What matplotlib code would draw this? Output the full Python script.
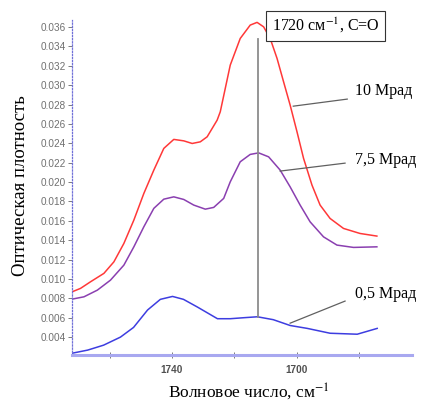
import matplotlib.pyplot as plt
from matplotlib.ticker import FixedLocator, FuncFormatter

plt.rcParams['mathtext.fontset'] = 'stix'

# wavenumber (cm-1) and optical density
wn_10 = [1772.5, 1769.3, 1766.1, 1761.8, 1758.6, 1755.4, 1752.2, 1749.0, 1745.8, 1742.6,
         1739.4, 1736.2, 1733.5, 1730.9, 1728.7, 1725.5, 1724.5, 1721.3, 1718.1, 1714.9,
         1712.7, 1710.6, 1708.5, 1706.3, 1704.2, 1702.1, 1699.9, 1697.8, 1695.1, 1692.5,
         1689.3, 1685.0, 1679.7, 1674.3]
od_10 = [0.00861, 0.00903, 0.00971, 0.01058, 0.01177, 0.01367, 0.01608, 0.01883, 0.02124, 0.02348,
         0.02441, 0.02426, 0.02399, 0.02416, 0.02468, 0.02640, 0.02726, 0.03208, 0.03483, 0.03621,
         0.03649, 0.03603, 0.03483, 0.03277, 0.03035, 0.02795, 0.02519, 0.02245, 0.01969, 0.01763,
         0.01625, 0.01522, 0.01470, 0.01443]

wn_75 = [1772.5, 1768.2, 1763.9, 1759.7, 1755.4, 1752.2, 1749.0, 1745.8, 1742.6, 1739.4,
         1736.2, 1733.0, 1729.3, 1726.6, 1723.4, 1721.3, 1718.1, 1714.9, 1712.2, 1709.0,
         1705.3, 1702.1, 1698.9, 1695.7, 1691.4, 1687.1, 1681.8, 1674.3]
od_75 = [0.00789, 0.00816, 0.00885, 0.00988, 0.01143, 0.01332, 0.01539, 0.01729, 0.01824, 0.01848,
         0.01821, 0.01763, 0.01721, 0.01739, 0.01832, 0.02003, 0.02210, 0.02286, 0.02302, 0.02261,
         0.02124, 0.01951, 0.01763, 0.01590, 0.01435, 0.01350, 0.01326, 0.01332]

wn_05 = [1771.8, 1767.0, 1761.9, 1756.5, 1752.3, 1747.8, 1743.7, 1739.8, 1736.3, 1731.8,
         1728.6, 1725.4, 1721.3, 1717.1, 1712.6, 1707.5, 1702.1, 1696.6, 1689.3, 1680.6,
         1674.2]
od_05 = [0.00235, 0.00266, 0.00317, 0.0040, 0.0050, 0.0068, 0.0079, 0.0082, 0.0079, 0.0071,
         0.0065, 0.0059, 0.0059, 0.0060, 0.0061, 0.0058, 0.0052, 0.0049, 0.0044, 0.0043,
         0.0049]

y_ticks = [0.004 + 0.002 * i for i in range(17)]
x_ticks = [1760, 1740, 1720, 1700, 1680]
x_labels = {1740: '1740', 1700: '1700'}
peak_wn = 1712.3

fig = plt.figure(figsize=(4.24, 4.03), dpi=100)
ax = fig.add_axes([0.170, 0.119, 0.802, 0.831])

ax.plot(wn_10, od_10, color='#ff3838', lw=1.1)
ax.plot(wn_75, od_75, color='#8a3fb0', lw=1.1)
ax.plot(wn_05, od_05, color='#3d3de0', lw=1.1)

ax.set_xlim(1772, 1663)
ax.set_ylim(0.00215, 0.03672)

# spines
for s in ['top', 'right']:
    ax.spines[s].set_visible(False)
ax.spines['left'].set_color('#7070d8')
ax.spines['left'].set_linestyle((0, (1, 1.5)))
ax.spines['left'].set_linewidth(0.9)
ax.spines['bottom'].set_color('#a8a8f0')
ax.spines['bottom'].set_linewidth(2.2)

ax.yaxis.set_major_locator(FixedLocator(y_ticks))
ax.yaxis.set_major_formatter(FuncFormatter(lambda v, p: '%.3f' % v))
ax.xaxis.set_major_locator(FixedLocator(x_ticks))
ax.xaxis.set_major_formatter(FuncFormatter(lambda v, p: x_labels.get(int(round(v)), '')))
ax.tick_params(axis='y', length=3, width=0.6, color='#666666', labelsize=7.2,
               labelcolor='#707070', pad=1.2)
ax.tick_params(axis='x', direction='inout', length=4, width=0.6, color='#666666',
               labelsize=7.2, labelcolor='#505050', pad=5)
for lab in ax.get_xticklabels():
    lab.set_fontweight('bold')
for lab in ax.get_xticklabels() + ax.get_yticklabels():
    lab.set_family('Liberation Sans')

ax.set_ylabel('Оптическая плотность', family='Liberation Serif', fontsize=13.5, va='center')
ax.yaxis.set_label_coords(-0.153, 0.507)
ax.set_xlabel('Волновое число, см$^{-1}$', family='Liberation Serif', fontsize=12.5, va='center')
ax.xaxis.set_label_coords(0.52, -0.110)

# vertical marker at the C=O band
ax.plot([peak_wn, peak_wn], [0.00607, 0.03473], color='#8c8c8c', lw=1.3)
ax.text(0.588, 0.9836, '1720 см$^{-1}$, C=O', transform=ax.transAxes,
        family='Liberation Serif', fontsize=11.5, va='center', ha='left',
        bbox=dict(boxstyle='square,pad=0.35', fc='white', ec='#333333', lw=0.8))

# callouts
callouts = [('10 Мрад', 1701.1, 0.02784, 1683.8, 0.02857, 0.0294),
            ('7,5 Мрад', 1705.3, 0.02114, 1684.5, 0.02196, 0.02227),
            ('0,5 Мрад', 1702.1, 0.00544, 1684.5, 0.00772, 0.00844)]
for text, x0, y0, x1, y1, ty in callouts:
    ax.plot([x0, x1], [y0, y1], color='#606060', lw=0.9)
    ax.text(1681.3, ty, text, family='Liberation Serif', fontsize=11.5, va='center', ha='left')

fig.savefig('out.png', dpi=100)
